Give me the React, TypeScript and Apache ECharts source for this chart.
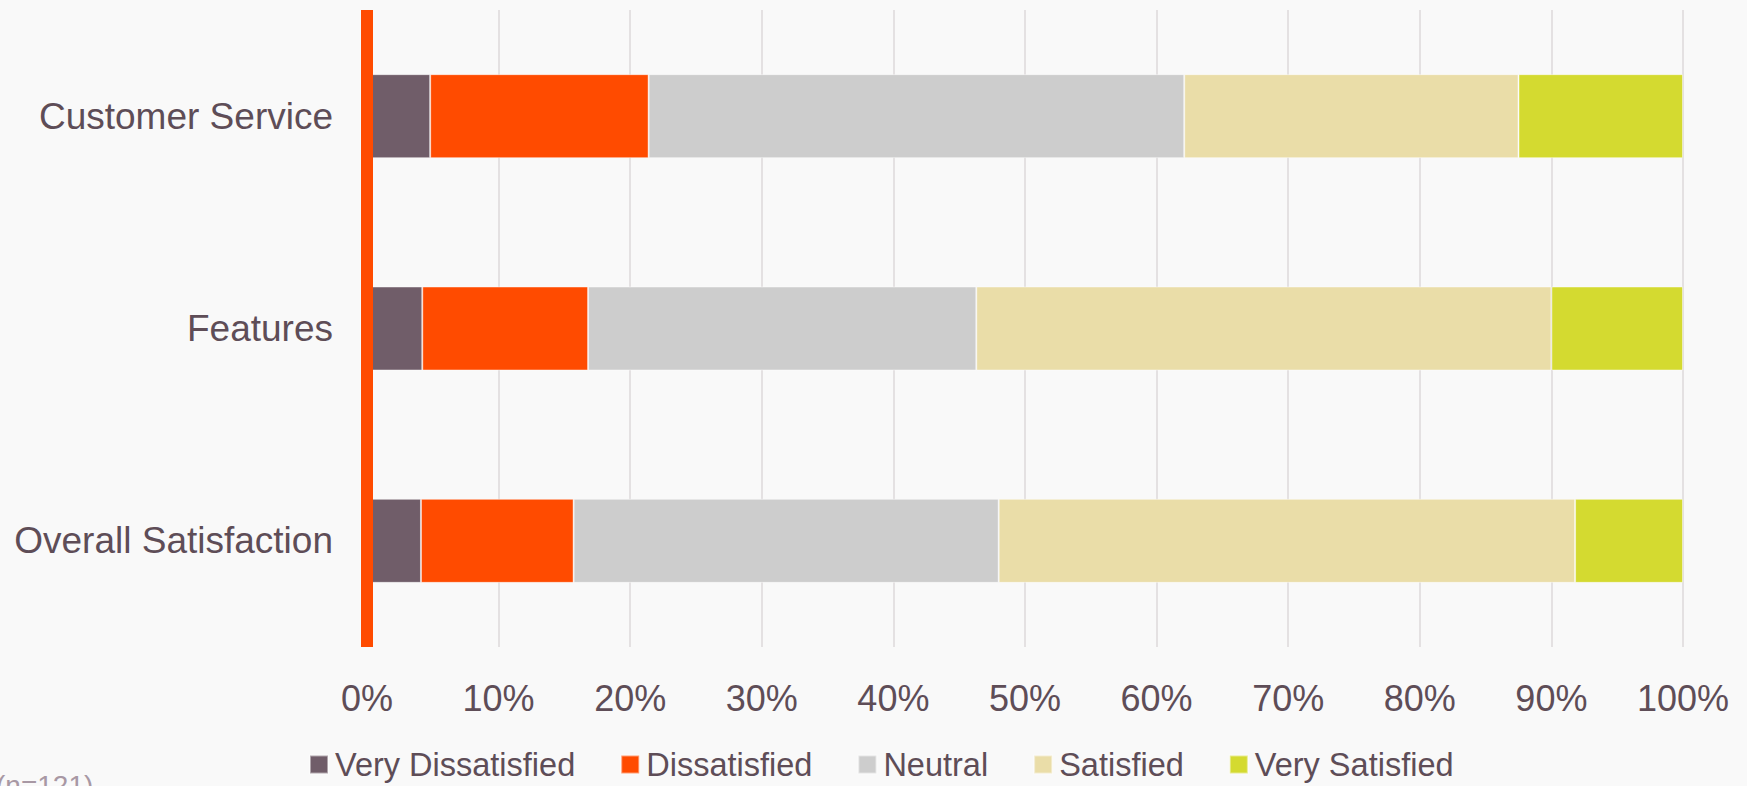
import React, { useEffect, useRef } from "react";
import * as echarts from "echarts";

const categories = ["Overall Satisfaction", "Features", "Customer Service"];
const seriesNames = ["Very Dissatisfied", "Dissatisfied", "Neutral", "Satisfied", "Very Satisfied"];
// values in %, order matches categories (bottom to top)
const veryDissatisfied = [4.1, 4.2, 4.8];
const dissatisfied = [11.6, 12.6, 16.6];
const neutral = [32.3, 29.5, 40.7];
const satisfied = [43.8, 43.7, 25.4];
const verySatisfied = [8.2, 10.0, 12.5];
const colors = ["#705D69", "#FF4B00", "#CDCDCD", "#EADDA8", "#D4DA30"];
const xTicks = [0, 10, 20, 30, 40, 50, 60, 70, 80, 90, 100];
const footnote = "(n=121)";

const TEXT = "#5E4D57";
const FONT = "Liberation Sans, Arial, sans-serif";

export default function App() {
  const ref = useRef<HTMLDivElement>(null);
  useEffect(() => {
    document.body.style.margin = "0";
    document.body.style.background = "#F9F9F9";
    const chart = echarts.init(ref.current!, null, { renderer: "svg" });
    const values = [veryDissatisfied, dissatisfied, neutral, satisfied, verySatisfied];
    chart.setOption({
      animation: false,
      backgroundColor: "#F9F9F9",
      textStyle: { fontFamily: FONT },
      grid: { left: 367, right: 64, top: 10, bottom: 139 },
      legend: {
        data: seriesNames,
        left: 304,
        top: 743,
        itemWidth: 18,
        itemHeight: 18,
        itemGap: 45,
        icon: "rect",
        textStyle: { fontSize: 32.5, color: TEXT, fontFamily: FONT, padding: [0, 0, 0, 2] },
      },
      xAxis: {
        type: "value",
        min: xTicks[0],
        max: xTicks[xTicks.length - 1],
        interval: xTicks[1] - xTicks[0],
        axisLine: { show: false },
        axisTick: { show: false },
        axisLabel: { formatter: "{value}%", fontSize: 36, color: TEXT, margin: 33, fontFamily: FONT },
        splitLine: { show: true, lineStyle: { color: "#E4E1E2", width: 2 } },
      },
      yAxis: {
        type: "category",
        data: categories,
        z: 10,
        axisLine: { show: true, lineStyle: { color: "#FF4B00", width: 12, cap: "butt" } },
        axisTick: { show: false },
        axisLabel: { fontSize: 37, color: TEXT, margin: 34, fontFamily: FONT },
      },
      graphic: [
        {
          type: "text",
          left: -4,
          top: 771,
          style: { text: footnote, fontSize: 28, fill: "#A898A4", fontFamily: FONT },
        },
      ],
      series: seriesNames.map((name, i) => ({
        name,
        type: "bar",
        stack: "total",
        barWidth: 84,
        data: values[i],
        itemStyle: { color: colors[i], borderColor: "rgba(255,255,255,0.45)", borderWidth: 1 },
      })),
    });
    return () => chart.dispose();
  }, []);
  return (
    <div
      ref={ref}
      style={{ position: "absolute", left: 0, top: 0, width: 1747, height: 786 }}
    />
  );
}
